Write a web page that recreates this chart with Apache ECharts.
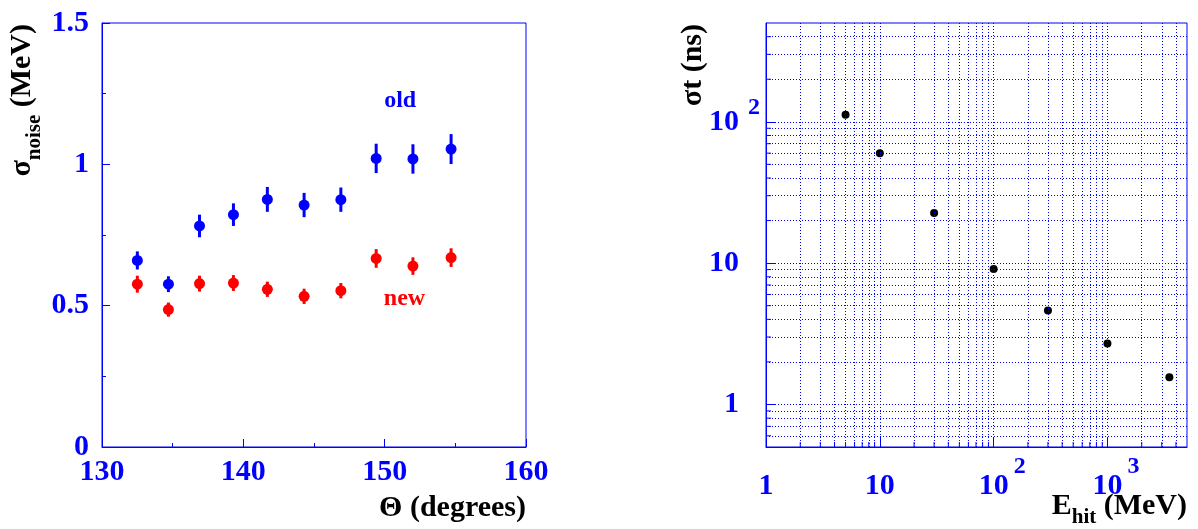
<!DOCTYPE html>
<html><head><meta charset="utf-8">
<script src="https://cdn.jsdelivr.net/npm/echarts@6/dist/echarts.min.js"></script>
<style>html,body{margin:0;padding:0;background:#fff}#c{width:1198px;height:529px}</style>
</head><body><div id="c"></div>
<script>
// ---- Left panel data: sigma_noise vs Theta ----
const thetaDeg = [132.5, 134.7, 136.9, 139.3, 141.7, 144.3, 146.9, 149.4, 152.0, 154.7];
const oldNoise = [0.660, 0.576, 0.782, 0.822, 0.876, 0.856, 0.875, 1.021, 1.019, 1.054];
const oldErr   = [0.032, 0.028, 0.040, 0.040, 0.044, 0.043, 0.043, 0.052, 0.052, 0.053];
const newNoise = [0.576, 0.486, 0.578, 0.580, 0.558, 0.533, 0.553, 0.667, 0.640, 0.670];
const newErr   = [0.030, 0.025, 0.028, 0.028, 0.027, 0.027, 0.027, 0.033, 0.031, 0.033];
const annotText = ['old', 'new'];
const annotX = [151.1, 151.4];
const annotY = [1.224, 0.523];

// ---- Right panel data: sigma_t vs E_hit ----
const eHit   = [5, 10, 30, 100, 300, 1000, 3500];
const sigmaT = [112, 60, 22.6, 9.1, 4.62, 2.7, 1.56];
const logGridX = [2,3,4,5,6,7,8,9,10,20,30,40,50,60,70,80,90,100,200,300,400,500,600,700,800,900,1000,2000,3000,4000];
const logGridY = [0.6,0.7,0.8,0.9,1,2,3,4,5,6,7,8,9,10,20,30,40,50,60,70,80,90,100,200,300,400];
const minorTicksX = [2,3,4,5,6,7,8,9,20,30,40,50,60,70,80,90,200,300,400,500,600,700,800,900,2000,3000,4000];
const minorTicksY = [0.6,0.7,0.8,0.9,2,3,4,5,6,7,8,9,20,30,40,50,60,70,80,90,200,300,400];

const BLUE = '#0000ff', RED = '#ff0000';
const FONT = 'Liberation Serif';
const X2MIN = 1, X2MAX = 5000, Y2MIN = 0.5, Y2MAX = 500;

const tickLbl = {color: BLUE, fontSize: 30, fontWeight: 'bold', fontFamily: FONT};
const supLbl = {color: BLUE, fontSize: 24, fontWeight: 'bold', fontFamily: FONT};

function errRender(params, api) {
  const x = api.value(0), y = api.value(1), e = api.value(2);
  const p1 = api.coord([x, y - e]), p2 = api.coord([x, y + e]);
  return {type: 'line', shape: {x1: p1[0], y1: p1[1], x2: p2[0], y2: p2[1]},
          style: {stroke: api.visual('color'), lineWidth: 3}};
}
function minorTickXRender(params, api) {
  const p = api.coord([api.value(0), Y2MIN]);
  return {type: 'line', shape: {x1: p[0], y1: p[1], x2: p[0], y2: p[1] - 5}, style: {stroke: BLUE, lineWidth: 1}};
}
function minorTickYRender(params, api) {
  const p = api.coord([X2MIN, api.value(1)]);
  return {type: 'line', shape: {x1: p[0], y1: p[1], x2: p[0] + 5, y2: p[1]}, style: {stroke: BLUE, lineWidth: 1}};
}
function logLabel(v) {
  const e = Math.round(Math.log10(v));
  if (e === 0) return '{b|1}';
  if (e === 1) return '{b|10}';
  return '{bs|10}{s|' + e + '}';
}

const chart = echarts.init(document.getElementById('c'), null, {renderer: 'canvas'});
const option = {
  animation: false,
  backgroundColor: '#ffffff',
  grid: [
    {left: 102, top: 23, width: 424, height: 424, show: true, borderColor: BLUE, borderWidth: 1, backgroundColor: 'transparent', outerBoundsMode: 'none'},
    {left: 766, top: 23, width: 421, height: 424, show: true, borderColor: BLUE, borderWidth: 1, backgroundColor: 'transparent', outerBoundsMode: 'none'}
  ],
  xAxis: [
    {gridIndex: 0, type: 'value', min: 130, max: 160, interval: 10,
     axisLine: {lineStyle: {color: BLUE}}, splitLine: {show: false},
     axisTick: {inside: true, length: 8, lineStyle: {color: BLUE}},
     minorTick: {show: true, splitNumber: 2, length: 4, lineStyle: {color: BLUE}},
     axisLabel: Object.assign({margin: 10}, tickLbl)},
    {gridIndex: 1, type: 'log', logBase: 10, min: X2MIN, max: X2MAX,
     axisLine: {lineStyle: {color: BLUE}}, splitLine: {show: false},
     axisTick: {inside: true, length: 9, lineStyle: {color: BLUE}},
     axisLabel: {margin: 8, showMaxLabel: false, formatter: logLabel,
       rich: {
         b: Object.assign({padding: [16, 0, 16, 0]}, tickLbl),
         bs: Object.assign({padding: [16, 0, 16, 17]}, tickLbl),
         s: Object.assign({padding: [0, 0, 38, 5]}, supLbl)
       }}}
  ],
  yAxis: [
    {gridIndex: 0, type: 'value', min: 0, max: 1.5, interval: 0.5,
     axisLine: {lineStyle: {color: BLUE}}, splitLine: {show: false},
     axisTick: {inside: true, length: 8, lineStyle: {color: BLUE}},
     minorTick: {show: true, splitNumber: 2, length: 4, lineStyle: {color: BLUE}},
     axisLabel: Object.assign({margin: 13}, tickLbl)},
    {gridIndex: 1, type: 'log', logBase: 10, min: Y2MIN, max: Y2MAX,
     axisLine: {lineStyle: {color: BLUE}}, splitLine: {show: false},
     axisTick: {inside: true, length: 10, lineStyle: {color: BLUE}},
     axisLabel: {margin: 6, showMinLabel: false, showMaxLabel: false, formatter: logLabel,
       rich: {
         b: Object.assign({padding: [0, 21, 0, 0]}, tickLbl),
         bs: Object.assign({padding: [0, 0, 0, 0]}, tickLbl),
         s: Object.assign({padding: [0, 0, 28, 9]}, supLbl)
       }}}
  ],
  series: [
    {type: 'custom', xAxisIndex: 0, yAxisIndex: 0, renderItem: errRender, itemStyle: {color: BLUE},
     data: thetaDeg.map((t, i) => [t, oldNoise[i], oldErr[i]]), z: 2},
    {type: 'custom', xAxisIndex: 0, yAxisIndex: 0, renderItem: errRender, itemStyle: {color: RED},
     data: thetaDeg.map((t, i) => [t, newNoise[i], newErr[i]]), z: 2},
    {type: 'scatter', name: 'old', xAxisIndex: 0, yAxisIndex: 0, symbol: 'circle', symbolSize: 11,
     itemStyle: {color: BLUE, opacity: 1}, data: thetaDeg.map((t, i) => [t, oldNoise[i]]), z: 3,
     markPoint: {symbol: 'circle', symbolSize: 1, itemStyle: {color: 'rgba(0,0,0,0)'},
       label: {show: true, position: 'inside', formatter: annotText[0], color: BLUE, fontSize: 24, fontWeight: 'bold', fontFamily: FONT},
       data: [{coord: [annotX[0], annotY[0]]}]}},
    {type: 'scatter', name: 'new', xAxisIndex: 0, yAxisIndex: 0, symbol: 'circle', symbolSize: 11,
     itemStyle: {color: RED, opacity: 1}, data: thetaDeg.map((t, i) => [t, newNoise[i]]), z: 3,
     markPoint: {symbol: 'circle', symbolSize: 1, itemStyle: {color: 'rgba(0,0,0,0)'},
       label: {show: true, position: 'inside', formatter: annotText[1], color: RED, fontSize: 24, fontWeight: 'bold', fontFamily: FONT},
       data: [{coord: [annotX[1], annotY[1]]}]}},
    {type: 'custom', xAxisIndex: 1, yAxisIndex: 1, renderItem: minorTickXRender,
     data: minorTicksX.map(v => [v, Y2MIN]), z: 2, silent: true},
    {type: 'custom', xAxisIndex: 1, yAxisIndex: 1, renderItem: minorTickYRender,
     data: minorTicksY.map(v => [X2MIN, v]), z: 2, silent: true},
    {type: 'scatter', name: 'sigmaT', xAxisIndex: 1, yAxisIndex: 1, symbol: 'circle', symbolSize: 8,
     itemStyle: {color: '#000000', opacity: 1}, data: eHit.map((e, i) => [e, sigmaT[i]]), z: 3,
     markLine: {silent: true, symbol: 'none', animation: false, label: {show: false},
       lineStyle: {type: [1, 2], color: '#0000ff', width: 1},
       emphasis: {disabled: true},
       data: logGridX.map(v => ({xAxis: v})).concat(logGridY.map(v => ({yAxis: v})))}}
  ],
  graphic: [
    {type: 'text', x: 22, y: 24, rotation: Math.PI / 2,
     style: {text: '{m|σ}{sub|noise}{m| (MeV)}', align: 'right', verticalAlign: 'middle',
       rich: {m: {fontSize: 30, fontWeight: 'bold', fontFamily: FONT, fill: '#000'},
              sub: {fontSize: 21, fontWeight: 'bold', fontFamily: FONT, fill: '#000', padding: [26, 0, 0, 0]}}}},
    {type: 'text', x: 526, y: 508,
     style: {text: 'Θ (degrees)', align: 'right', verticalAlign: 'middle', fontSize: 30, fontWeight: 'bold', fontFamily: FONT, fill: '#000'}},
    {type: 'text', x: 693, y: 24, rotation: Math.PI / 2,
     style: {text: 'σt (ns)', align: 'right', verticalAlign: 'middle', fontSize: 30, fontWeight: 'bold', fontFamily: FONT, fill: '#000'}},
    {type: 'text', x: 1187, y: 506,
     style: {text: '{m|E}{sub|hit}{m| (MeV)}', align: 'right', verticalAlign: 'middle',
       rich: {m: {fontSize: 30, fontWeight: 'bold', fontFamily: FONT, fill: '#000'},
              sub: {fontSize: 21, fontWeight: 'bold', fontFamily: FONT, fill: '#000', padding: [24, 0, 0, 0]}}}}
  ]
};
chart.setOption(option);
</script>
</body></html>
